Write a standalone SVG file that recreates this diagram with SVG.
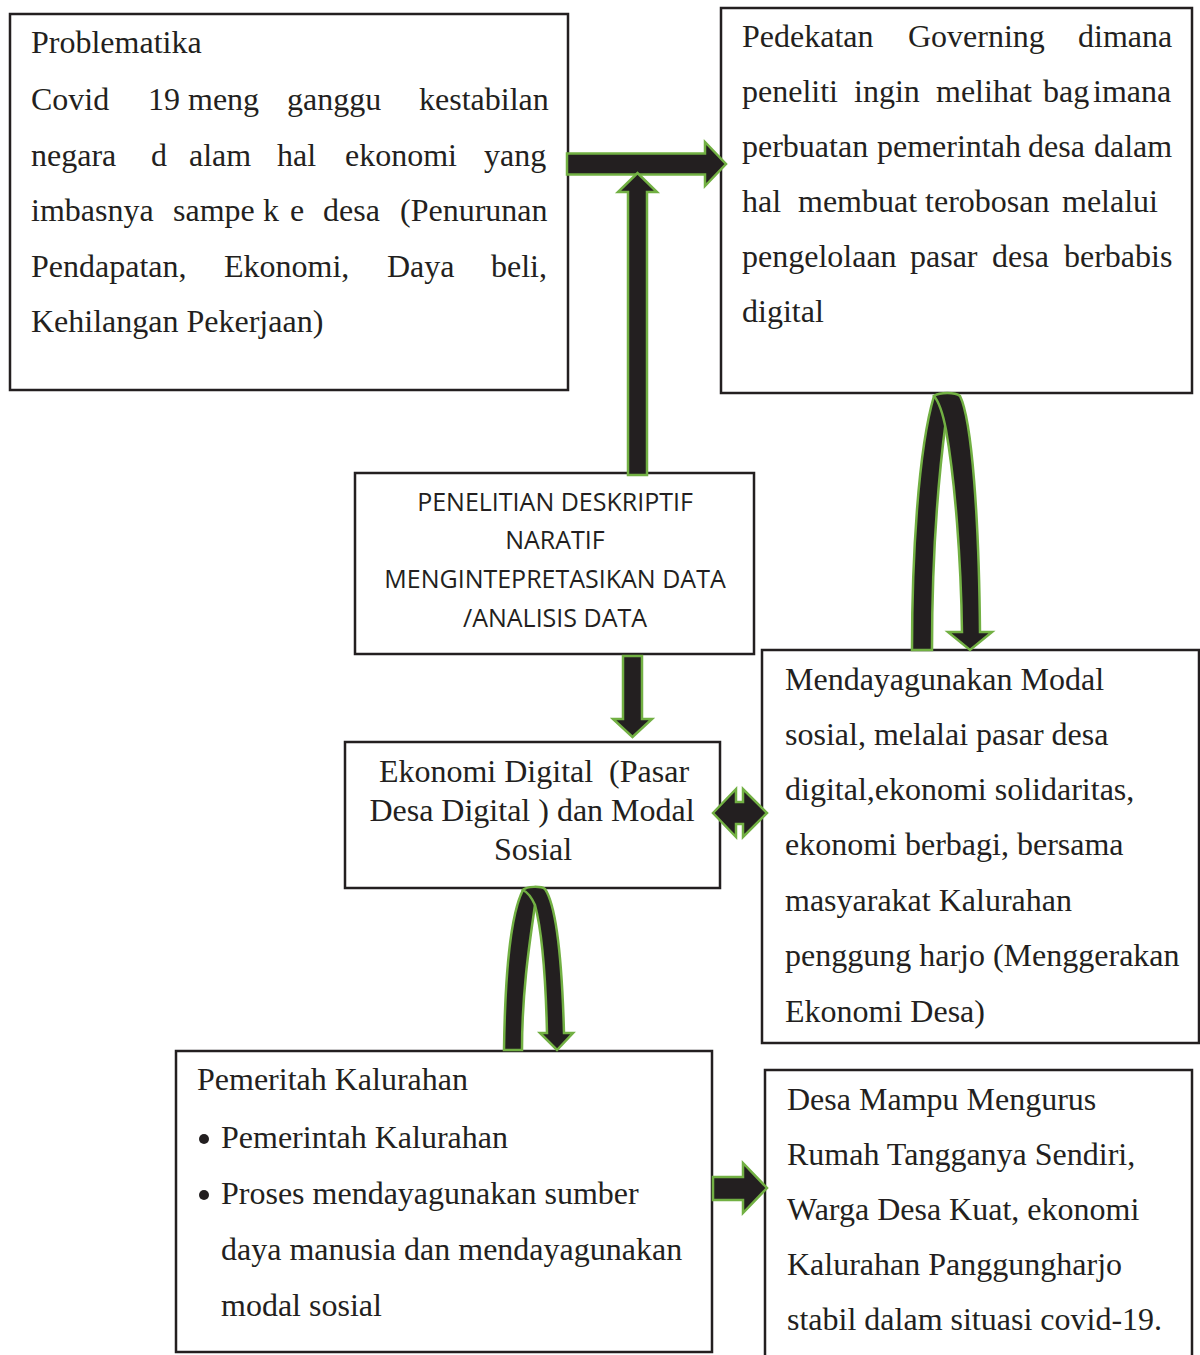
<svg xmlns="http://www.w3.org/2000/svg" width="1200" height="1355" viewBox="0 0 1200 1355">
<style>
.box{fill:#ffffff;stroke:#231f20;stroke-width:2.5}
.t{font-family:"Liberation Serif","Times New Roman",serif;font-size:32px;fill:#231f20}
.s{font-family:"Open Sans","Noto Sans",sans-serif;font-size:25px;fill:#231f20;text-anchor:middle}
.c{text-anchor:middle}
.pre{white-space:pre}
.arr{fill:#231f20;stroke:#72b043;stroke-width:2.5;stroke-linejoin:miter}
</style>
<rect width="1200" height="1355" fill="#ffffff"/>
<g id="node-problematika">
<rect class="box" x="10" y="14" width="558" height="376"/>
<text class="t" y="53"><tspan x="31">Problematika</tspan></text>
<text class="t" y="110"><tspan x="31">Covid</tspan><tspan x="148">19 meng</tspan><tspan x="287">ganggu</tspan><tspan x="419">kestabilan</tspan></text>
<text class="t" y="166"><tspan x="31">negara</tspan><tspan x="151">d</tspan><tspan x="189">alam</tspan><tspan x="277">hal</tspan><tspan x="345">ekonomi</tspan><tspan x="484">yang</tspan></text>
<text class="t" y="221"><tspan x="31">imbasnya</tspan><tspan x="173">sampe</tspan><tspan x="263">k</tspan><tspan x="290">e</tspan><tspan x="323">desa</tspan><tspan x="400">(Penurunan</tspan></text>
<text class="t" y="277"><tspan x="31">Pendapatan,</tspan><tspan x="224">Ekonomi,</tspan><tspan x="387">Daya</tspan><tspan x="491">beli,</tspan></text>
<text class="t" y="332"><tspan x="31">Kehilangan Pekerjaan)</tspan></text>
</g>
<g id="node-pedekatan">
<rect class="box" x="721" y="8" width="471" height="385"/>
<text class="t" y="47"><tspan x="742">Pedekatan</tspan><tspan x="908">Governing</tspan><tspan x="1078">dimana</tspan></text>
<text class="t" y="102"><tspan x="742">peneliti</tspan><tspan x="854">ingin</tspan><tspan x="936">melihat</tspan><tspan x="1043">bag</tspan><tspan x="1093">imana</tspan></text>
<text class="t" y="157"><tspan x="742">perbuatan</tspan><tspan x="877">pemerintah</tspan><tspan x="1028">desa</tspan><tspan x="1094">dalam</tspan></text>
<text class="t" y="212"><tspan x="742">hal</tspan><tspan x="798">membuat terobosan</tspan><tspan x="1062">melalui</tspan></text>
<text class="t" y="267"><tspan x="742">pengelolaan</tspan><tspan x="910">pasar</tspan><tspan x="992">desa</tspan><tspan x="1064">berbabis</tspan></text>
<text class="t" y="322"><tspan x="742">digital</tspan></text>
</g>
<g id="node-penelitian">
<rect class="box" x="355" y="473" width="399" height="181"/>
<text class="s" x="555" y="511">PENELITIAN DESKRIPTIF</text>
<text class="s" x="555" y="549">NARATIF</text>
<text class="s" x="555" y="588">MENGINTEPRETASIKAN DATA</text>
<text class="s" x="555" y="627">/ANALISIS DATA</text>
</g>
<g id="node-ekonomi-digital">
<rect class="box" x="345" y="742" width="375" height="146"/>
<text class="t c pre" x="534" y="782">Ekonomi Digital  (Pasar</text>
<text class="t c" x="532" y="821">Desa Digital ) dan Modal</text>
<text class="t c" x="533" y="860">Sosial</text>
</g>
<g id="node-mendayagunakan">
<rect class="box" x="762" y="650" width="437" height="393"/>
<text class="t" x="785" y="690">Mendayagunakan Modal</text>
<text class="t" x="785" y="745">sosial, melalai pasar desa</text>
<text class="t" x="785" y="800">digital,ekonomi solidaritas,</text>
<text class="t" x="785" y="855">ekonomi berbagi, bersama</text>
<text class="t" x="785" y="911">masyarakat Kalurahan</text>
<text class="t" x="785" y="966">penggung harjo (Menggerakan</text>
<text class="t" x="785" y="1022">Ekonomi Desa)</text>
</g>
<g id="node-pemeritah">
<rect class="box" x="176" y="1051" width="536" height="301"/>
<text class="t" x="197" y="1090">Pemeritah Kalurahan</text>
<circle cx="204" cy="1139" r="5" fill="#231f20"/>
<text class="t" x="221" y="1148">Pemerintah Kalurahan</text>
<circle cx="204" cy="1195" r="5" fill="#231f20"/>
<text class="t" x="221" y="1204">Proses mendayagunakan sumber</text>
<text class="t" x="221" y="1260">daya manusia dan mendayagunakan</text>
<text class="t" x="221" y="1316">modal sosial</text>
</g>
<g id="node-desa-mampu">
<rect class="box" x="765" y="1070" width="427" height="300"/>
<text class="t" x="787" y="1110">Desa Mampu Mengurus</text>
<text class="t" x="787" y="1165">Rumah Tangganya Sendiri,</text>
<text class="t" x="787" y="1220">Warga Desa Kuat, ekonomi</text>
<text class="t" x="787" y="1275">Kalurahan Panggungharjo</text>
<text class="t" x="787" y="1330">stabil dalam situasi covid-19.</text>
</g>
<g id="connectors">
<polygon class="arr" points="567,153.5 705,153.5 705,142 726,164 705,186 705,174.5 567,174.5"/>
<polygon class="arr" points="628,475 628,192 618,192 637.5,173 657,192 647,192 647,475"/>
<polygon class="arr" points="623,656 642,656 642,719 652,719 632.5,737 613,719 623,719"/>
<path class="arr" d="M912,650 C912,560 918,450 934,396 C940,392 948,400 946,420 C938,480 932,560 932,650 Z"/>
<path class="arr" d="M934,396 C940,392 955,392 960,396 C972,420 979,520 980,632 L992,632 L970,650 L948,632 L962,632 C961,560 955,480 946,430 C943,414 939,402 934,396 Z"/>
<polygon class="arr" points="713,813 736,789 736,802 743,802 743,789 767,813 743,837 743,824 736,824 736,837"/>
<path class="arr" d="M504,1050 C505,980 510,915 523,890 C528,887 535,893 535,905 C530,940 522,990 522,1050 Z"/>
<path class="arr" d="M523,890 C527,886 541,886 545,889 C556,905 562,960 564,1033 L573,1033 L557,1050 L540,1033 L547,1033 C546,990 543,935 535,905 C531,896 527,892 523,890 Z"/>
<polygon class="arr" points="713,1177 743,1177 743,1163 767,1188 743,1213 743,1200 713,1200"/>
</g>
</svg>
